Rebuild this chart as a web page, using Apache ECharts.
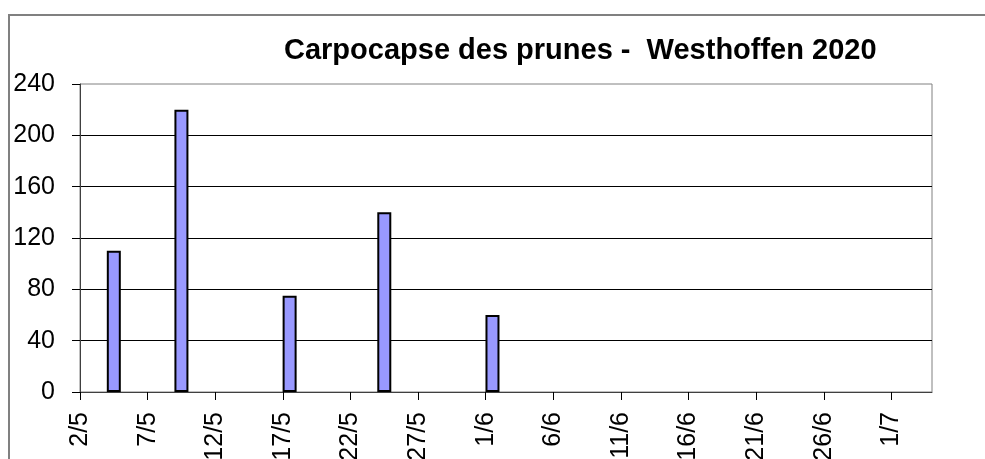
<!DOCTYPE html>
<html>
<head>
<meta charset="utf-8">
<script src="https://cdn.jsdelivr.net/npm/echarts@6/dist/echarts.min.js"></script>
<style>
  html, body { margin: 0; padding: 0; background: #fff; }
  #chart { width: 985px; height: 459px; }
</style>
</head>
<body>
<div id="chart"></div>
<script>
// trap catches (day/month, 2020)
const year = 2020;
const axisStart = '2/5';
const axisDays = 63;
const tickStep = 5;
const catchDates = ['4/5', '9/5', '17/5', '24/5', '1/6'];
const catchCounts = [110, 220, 75, 140, 60];
const yTicks = [0, 40, 80, 120, 160, 200, 240];

const DAY = 86400000;
function toUTC(s) {
  const [d, m] = s.split('/').map(Number);
  return Date.UTC(year, m - 1, d);
}
const startMs = toUTC(axisStart);
function dayIndex(s) {
  return (toUTC(s) - startMs) / DAY;
}
function dayLabel(v) {
  const dt = new Date(startMs + v * DAY);
  return dt.getUTCDate() + '/' + (dt.getUTCMonth() + 1);
}

const font = 'Liberation Sans, Arial, sans-serif';
const chart = echarts.init(document.getElementById('chart'));

chart.setOption({
  animation: false,
  backgroundColor: '#fff',
  title: {
    text: 'Carpocapse des prunes -  Westhoffen 2020',
    left: 284,
    top: 36,
    padding: 0,
    textStyle: { fontFamily: font, fontSize: 29, fontWeight: 'bold', color: '#000' }
  },
  graphic: [{
    type: 'rect',
    shape: { x: 9, y: 15, width: 1000, height: 500 },
    style: { fill: 'none', stroke: '#808080', lineWidth: 2 },
    z: -1
  }],
  grid: {
    left: 80, top: 84, right: 53, bottom: 67,
    show: true, borderColor: '#808080', borderWidth: 1,
    outerBoundsMode: 'none'
  },
  xAxis: {
    type: 'value',
    min: 0,
    max: axisDays,
    interval: tickStep,
    axisLine: { lineStyle: { color: '#404040', width: 1 } },
    axisTick: { length: 8, lineStyle: { color: '#000' } },
    splitLine: { show: false },
    axisLabel: {
      rotate: 90,
      margin: 20,
      padding: [14, 0, 0, 0],
      showMaxLabel: false,
      fontFamily: font,
      fontSize: 25,
      color: '#000',
      formatter: v => (v % tickStep ? '' : dayLabel(v))
    }
  },
  yAxis: {
    type: 'value',
    min: yTicks[0],
    max: yTicks[yTicks.length - 1],
    interval: yTicks[1] - yTicks[0],
    axisLine: { show: true, lineStyle: { color: '#404040', width: 1 } },
    axisTick: { show: true, length: 8, lineStyle: { color: '#000' } },
    splitLine: { show: true, showMaxLine: false, lineStyle: { color: '#000', width: 1 } },
    axisLabel: { margin: 25, fontFamily: font, fontSize: 25, color: '#000' }
  },
  series: [{
    type: 'bar',
    barWidth: 14,
    data: catchDates.map((s, i) => [dayIndex(s) + 0.5, catchCounts[i]]),
    itemStyle: { color: '#9999FF', borderColor: '#000', borderWidth: 2 }
  }]
});
</script>
</body>
</html>
